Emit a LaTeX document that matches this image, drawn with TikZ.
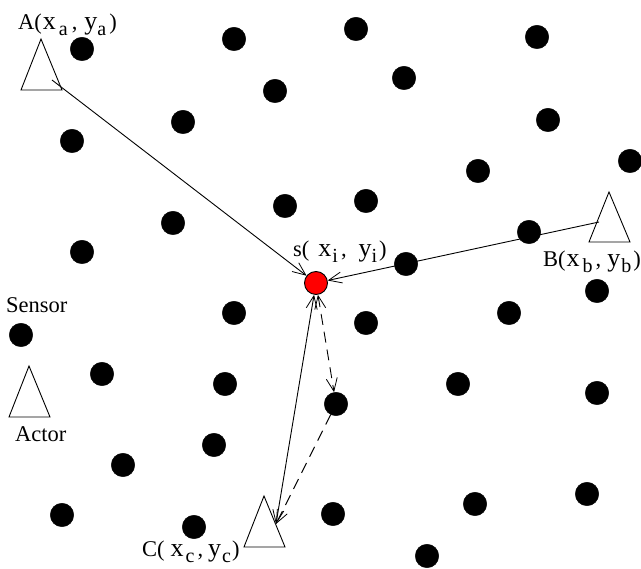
\documentclass[tikz,border=0pt]{standalone}
\usepackage{fontspec}
\setmainfont{Liberation Serif}
\usetikzlibrary{arrows.meta}
\newcommand{\dn}[1]{\raisebox{-6pt}{\fontsize{20}{22}\selectfont #1}}
\newcommand{\vr}[1]{{\fontsize{26}{28}\selectfont #1}}
\tikzset{
  dot/.style={circle,fill=black,draw=black,inner sep=0pt,minimum size=23.5pt},
  actor/.style={draw=black,line width=0.9pt,fill=none},
  lab/.style={inner sep=0pt,font=\fontsize{22.5}{24}\selectfont,text=black,anchor=base west},
  link/.style={draw=black,line width=0.9pt},
  hd/.style={-{Straight Barb[length=13pt,width=11pt,line width=0.8pt]}},
  hdb/.style={{Straight Barb[length=13pt,width=11pt,line width=0.8pt]}-{Straight Barb[length=13pt,width=11pt,line width=0.8pt]}}
}
\begin{document}
\begin{tikzpicture}[x=1pt,y=-1pt]
\useasboundingbox (0,0) rectangle (641,569);
\foreach \n/\x/\y in {1/82/49,2/234/39,3/356/29,4/537/37,5/404/78,6/275/91,7/183/122,8/548/120,9/72/141,10/630/161,11/478/171,12/366/201,13/285/206,14/173/223,15/529/232,16/82/252,17/406/264,18/597/291,19/234/313,20/509/313,21/366/323,22/21/335,23/102/374,24/225/384,25/458/384,26/597/393,27/336/404,28/214/445,29/123/465,30/475/504,31/587/494,32/62/515,33/333/514,34/194/527,35/427/556}
  \node[dot] (d\n) at (\x,\y) {};
\node[circle,fill=red,draw=black,line width=0.9pt,inner sep=0pt,minimum size=23pt] (s) at (316,283) {};
% actors
\draw[actor] (41,39) -- (62,90) -- (21,90) -- cycle;
\draw[actor] (609,192) -- (630,242) -- (589,242) -- cycle;
\draw[actor] (264,496) -- (285,547) -- (244,547) -- cycle;
\draw[actor] (29,366) -- (50,417) -- (9,417) -- cycle;
\coordinate (ca) at (52,80);
\coordinate (cb) at (599,222);
\coordinate (cc) at (276,524);
% connectors
\draw[link,hd] (ca) -- (s);
\draw[link,hd] (cb) -- (s);
\draw[link,hdb] (cc) -- (s);
\draw[link,hdb,dashed,dash pattern=on 11pt off 7pt] (s) -- (d27);
\draw[link,hd,dashed,dash pattern=on 11pt off 7pt] (d27) -- (cc);
% labels
\node[lab] (la) at (18,30) {A(\kern1pt\vr{x}\kern3pt\dn{a}\kern4pt,\kern7pt\vr{y}\dn{a}\kern3pt)};
\node[lab] (lb) at (543,267) {B(\kern1pt\vr{x}\kern3pt\dn{b}\kern3pt,\kern6pt\vr{y}\kern1pt\dn{b}\kern2pt)};
\node[lab] (lc) at (142,557) {C(\kern6pt\vr{x}\kern2pt\dn{c}\kern3pt,\kern5pt\vr{y}\kern1pt\dn{c}\kern1pt)};
\node[lab] (ls) at (293,257) {s(\kern9pt\vr{x}\kern1pt\dn{i}\kern3pt,\kern12pt\vr{y}\dn{i}\kern2pt)};
\node[lab] (l1) at (6,313) {Sensor};
\node[lab] (l2) at (15,442) {Actor};
\end{tikzpicture}
\end{document}
